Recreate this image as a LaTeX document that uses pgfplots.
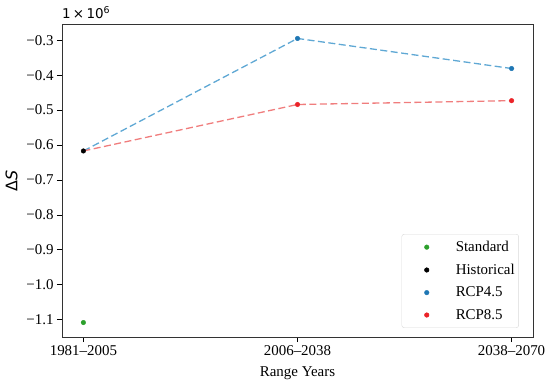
\documentclass[border=0pt]{standalone}
\usepackage{fontspec}
\setmainfont{Liberation Serif}
\newfontfamily\dejavu{DejaVu Sans}
\usepackage{pgfplots}
\pgfplotsset{compat=1.18}
\definecolor{tabgreen}{RGB}{44,160,44}
\definecolor{tabblue}{RGB}{31,119,180}
\definecolor{linblue}{RGB}{95,168,212}
\definecolor{mred}{RGB}{235,35,40}
\definecolor{linred}{RGB}{240,125,125}
\begin{document}
\begin{tikzpicture}
\begin{axis}[
  scale only axis,
  width=471bp, height=313bp,
  xmin=-0.1, xmax=2.1,
  ymin=-1.1494, ymax=-0.2536,
  xtick={0,1,2},
  xticklabels={1981–2005,2006–2038,2038–2070},
  ytick={-1.1,-1.0,-0.9,-0.8,-0.7,-0.6,-0.5,-0.4,-0.3},
  yticklabels={−1.1,−1.0,−0.9,−0.8,−0.7,−0.6,−0.5,−0.4,−0.3},
  tick align=outside,
  xtick pos=bottom, ytick pos=left,
  major tick length=5bp,
  tick style={black, line width=0.8bp},
  axis line style={line width=0.8bp, draw=black!80},
  xticklabel style={font=\rmfamily\fontsize{15}{18}\selectfont},
  yticklabel style={font=\rmfamily\fontsize{15}{18}\selectfont},
  xlabel={Range Years},
  xlabel style={font=\rmfamily\fontsize{15}{18}\selectfont, yshift=-4bp},
  ylabel={Δ\textit{S}},
  ylabel style={font=\dejavu\fontsize{16}{18}\selectfont, yshift=2bp},
  legend style={at={(rel axis cs:0.970,0.029)}, anchor=south east,
    draw=black!15, rounded corners=2.5bp, font=\rmfamily\fontsize{15}{18}\selectfont,
    row sep=7bp, inner xsep=2bp, inner ysep=5bp},
  legend cell align=left,
  legend image code/.code={\path[draw=none,fill=none] (0bp,-1bp) rectangle (50bp,1bp); \draw[#1] plot[only marks] coordinates {(23bp,0bp)};},
  clip=false,
]
\addplot[linblue, line width=1.3bp, dash pattern=on 7bp off 3.5bp, forget plot] coordinates {(0,-0.617) (1,-0.295) (2,-0.381)};
\addplot[linred, line width=1.3bp, dash pattern=on 7bp off 3.5bp, forget plot] coordinates {(0,-0.617) (1,-0.484) (2,-0.473)};
\addplot[only marks, mark=*, mark size=2.3bp, tabgreen] coordinates {(0,-1.108)};
\addlegendentry{Standard}
\addplot[only marks, mark=*, mark size=2.3bp, black] coordinates {(0,-0.617)};
\addlegendentry{Historical}
\addplot[only marks, mark=*, mark size=2.3bp, tabblue] coordinates {(1,-0.295) (2,-0.381)};
\addlegendentry{RCP4.5}
\addplot[only marks, mark=*, mark size=2.3bp, mred] coordinates {(1,-0.484) (2,-0.473)};
\addlegendentry{RCP8.5}
\node[anchor=south west, inner sep=0pt, font=\dejavu\fontsize{13.5}{15}\selectfont] at (rel axis cs:0,1) [yshift=5bp] {1\,×\,10\textsuperscript{6}};
\end{axis}
\path (current axis.south west) ++(-62bp,-46bp) coordinate (bbA);
\path (current axis.north east) ++(17bp,24bp) coordinate (bbB);
\path (bbA) rectangle (bbB);
\end{tikzpicture}
\end{document}
